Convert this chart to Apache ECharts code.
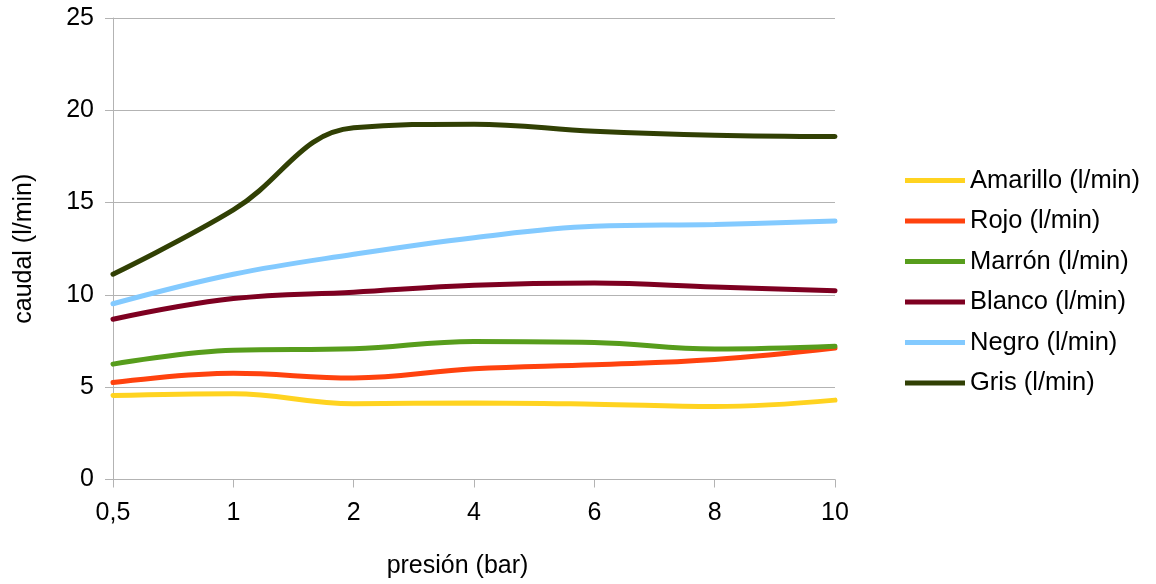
<!DOCTYPE html>
<html>
<head>
<meta charset="utf-8">
<script src="https://cdn.jsdelivr.net/npm/echarts@6/dist/echarts.min.js"></script>
<style>html,body{margin:0;padding:0;background:#fff}#c{width:1156px;height:584px}</style>
</head>
<body>
<div id="c"></div>
<script>
const categories = ['0,5', '1', '2', '4', '6', '8', '10'];
const amarillo = [4.55, 4.65, 4.1, 4.15, 4.08, 3.95, 4.3];
const rojo = [5.25, 5.75, 5.5, 6.0, 6.22, 6.5, 7.12];
const marron = [6.25, 7.0, 7.08, 7.48, 7.42, 7.07, 7.22];
const blanco = [8.68, 9.8, 10.15, 10.52, 10.64, 10.43, 10.22];
const negro = [9.52, 11.12, 12.2, 13.1, 13.72, 13.82, 14.0];
const gris = [11.12, 14.6, 19.05, 19.25, 18.87, 18.65, 18.58];
const seriesNames = ['Amarillo (l/min)', 'Rojo (l/min)', 'Marrón (l/min)', 'Blanco (l/min)', 'Negro (l/min)', 'Gris (l/min)'];
const seriesData = [amarillo, rojo, marron, blanco, negro, gris];
const colors = ['#ffd320', '#ff420e', '#579d1c', '#7e0021', '#83caff', '#314004'];
const yTicks = [0, 5, 10, 15, 20, 25];

const font = 'Liberation Sans, Arial, sans-serif';
const chart = echarts.init(document.getElementById('c'));
chart.setOption({
  animation: false,
  color: colors,
  grid: { left: 113, right: 321, top: 18, bottom: 104, containLabel: false },
  legend: {
    orient: 'vertical', left: 905, top: 167.5, padding: 0,
    icon: 'rect', itemWidth: 60, itemHeight: 5, itemGap: 14.5,
    textStyle: { fontFamily: font, fontSize: 25.5, color: '#000', lineHeight: 25 },
    data: seriesNames
  },
  xAxis: {
    type: 'category', data: categories, boundaryGap: false,
    name: 'presión (bar)', nameLocation: 'middle', nameGap: 74.5,
    nameTextStyle: { fontFamily: font, fontSize: 25, color: '#000', lineHeight: 25, padding: [0, 33, 0, 0] },
    axisLine: { lineStyle: { color: '#b3b3b3', width: 1 } },
    axisTick: { show: true, length: 8, inside: false, alignWithLabel: true, lineStyle: { color: '#b3b3b3' } },
    axisLabel: { fontFamily: font, fontSize: 25, color: '#000', lineHeight: 25, margin: 21 },
    splitLine: { show: false }
  },
  yAxis: {
    type: 'value', min: yTicks[0], max: yTicks[yTicks.length - 1], interval: 5,
    name: 'caudal (l/min)', nameLocation: 'middle', nameGap: 76, nameRotate: 90,
    nameTextStyle: { fontFamily: font, fontSize: 25, color: '#000', lineHeight: 25 },
    axisLine: { show: true, lineStyle: { color: '#b3b3b3', width: 1 } },
    axisTick: { show: true, length: 8, lineStyle: { color: '#b3b3b3' } },
    axisLabel: { fontFamily: font, fontSize: 25, color: '#000', margin: 19 },
    splitLine: { show: true, lineStyle: { color: '#b3b3b3', width: 1 } }
  },
  series: seriesNames.map((n, i) => ({
    name: n, type: 'line', data: seriesData[i], smooth: 0.4,
    showSymbol: false, symbol: 'none',
    lineStyle: { width: 5, color: colors[i], cap: 'round' },
    z: 2 + i
  }))
});
</script>
</body>
</html>
